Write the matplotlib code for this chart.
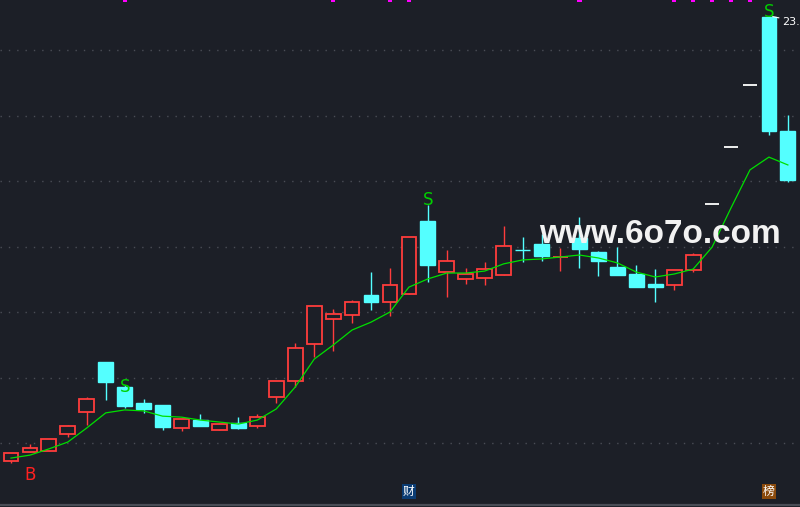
import matplotlib
matplotlib.use("Agg")
import matplotlib.pyplot as plt
from matplotlib.patches import Rectangle

# ---- data ----
opens  = [9.45, 9.73, 9.76, 10.27, 10.95, 12.47, 11.71, 11.22, 11.16, 10.46,
          10.70, 10.40, 10.61, 10.52, 11.40, 11.89, 13.02, 13.79, 13.91, 14.52,
          14.31, 14.55, 16.78, 15.22, 15.01, 15.04, 15.13, 15.90, 16.08, 15.67,
          16.26, 15.83, 15.37, 15.16, 14.85, 14.82, 15.28, 17.30, 19.03, 20.93,
          23.02, 19.53]
closes = [9.69, 9.85, 10.12, 10.52, 11.34, 11.86, 11.13, 11.04, 10.49, 10.73,
          10.52, 10.58, 10.46, 10.79, 11.89, 12.90, 14.18, 13.94, 14.31, 14.31,
          14.82, 16.29, 15.44, 15.56, 15.16, 15.31, 16.02, 15.88, 15.71, 15.69,
          15.92, 15.56, 15.13, 14.76, 14.76, 15.28, 15.74, 17.30, 19.03, 20.93,
          19.53, 18.03]
highs  = [9.69, 9.97, 10.12, 10.55, 11.40, 12.47, 11.77, 11.34, 11.16, 10.73,
          10.89, 10.61, 10.79, 10.89, 11.89, 13.05, 14.18, 14.09, 14.37, 15.22,
          15.34, 16.29, 17.27, 15.89, 15.34, 15.53, 16.63, 16.29, 16.38, 15.95,
          16.90, 15.86, 15.98, 15.44, 15.31, 15.28, 15.80, 17.30, 19.03, 20.93,
          23.02, 20.02]
lows   = [9.39, 9.73, 9.76, 10.18, 10.55, 11.31, 11.07, 10.92, 10.40, 10.37,
          10.52, 10.40, 10.43, 10.46, 11.22, 11.71, 12.63, 12.81, 13.66, 14.06,
          13.88, 14.55, 14.92, 14.46, 14.85, 14.82, 15.13, 15.53, 15.56, 15.25,
          15.34, 15.10, 15.13, 14.76, 14.31, 14.67, 15.22, 17.30, 19.03, 20.93,
          19.40, 17.97]
ma     = [9.54, 9.63, 9.82, 10.03, 10.46, 10.92, 11.01, 10.98, 10.82, 10.79,
          10.70, 10.64, 10.58, 10.70, 11.04, 11.71, 12.56, 12.99, 13.45, 13.69,
          14.00, 14.76, 15.01, 15.19, 15.19, 15.25, 15.47, 15.59, 15.62, 15.68,
          15.74, 15.65, 15.50, 15.22, 15.07, 15.16, 15.31, 15.98, 17.18, 18.34,
          18.73, 18.49]
grid_levels = [10, 12, 14, 16, 18, 20, 22]
sell_idx = [6, 22, 40]
sell_price = [11.56, 17.27, 23.02]
buy_idx = [1]
buy_price = [9.30]
top_marks = [6, 17, 20, 21, 30, 35, 36, 37, 38, 39]
bottom_tags = [(21, "财", "#0b3c73"), (40, "榜", "#8a4a0c")]
watermark = "www.6o7o.com"

# ---- style ----
BG = "#1c1f27"
UP = "#ff3c3c"
DOWN = "#54ffff"
MA_C = "#00e000"
GRID = "#4a4d56"

plt.rcParams['font.family'] = ['Noto Sans CJK SC', 'DejaVu Sans']

fig = plt.figure(figsize=(8, 5.07), dpi=100, facecolor=BG)
ax = fig.add_axes([0, 0, 1, 1])
ax.set_facecolor(BG)
ax.set_xlim(-0.58, 41.64)
ax.set_ylim(8.046, 23.527)
ax.axis("off")

for g in grid_levels:
    ax.axhline(g, color=GRID, lw=1.0, ls=(0, (1, 5)), zorder=1)

w = 0.78
for i, (o, c, h, l) in enumerate(zip(opens, closes, highs, lows)):
    if h == l:
        ax.plot([i - w / 2, i + w / 2], [h, h], color="white", lw=1.3, zorder=3,
                solid_capstyle="butt")
        continue
    up = c >= o
    col = UP if up else DOWN
    ax.plot([i, i], [l, h], color=col, lw=1.0, zorder=2, solid_capstyle="butt")
    bottom = min(o, c)
    height = max(abs(c - o), 0.0001)
    if up:
        ax.add_patch(Rectangle((i - w / 2, bottom), w, height, facecolor=BG,
                               edgecolor=col, lw=1.3, zorder=3))
    else:
        ax.add_patch(Rectangle((i - w / 2, bottom), w, height, facecolor=col,
                               edgecolor=col, lw=1.0, zorder=3))

ax.plot(range(len(ma)), ma, color=MA_C, lw=0.9, zorder=4)

for i, p in zip(sell_idx, sell_price):
    ax.text(i, p, "S", color="#00d000", fontsize=12, ha="center", va="baseline",
            family="DejaVu Sans", zorder=5)
for i, p in zip(buy_idx, buy_price):
    ax.text(i, p, "B", color="#ff2020", fontsize=12, ha="center", va="top",
            family="DejaVu Sans", zorder=5)

# top magenta markers
ymax = ax.get_ylim()[1]
for i in top_marks:
    ax.add_patch(Rectangle((i - 0.11, ymax - 0.07), 0.22, 0.07,
                           facecolor="#ff00ff", edgecolor="none", zorder=5))

# high value label (clipped at the right edge, as in the reference)
ax.annotate(f"{highs[40]:.2f}", xy=(40.2, highs[40]), xytext=(9, -5),
            textcoords="offset pixels", color="white", fontsize=8,
            family="DejaVu Sans", ha="left", va="center",
            arrowprops=dict(arrowstyle="-", color="white", lw=0.8,
                            shrinkA=0, shrinkB=0), zorder=6)

# bottom line and tags
ax.axhline(8.12, color="#4a4d56", lw=1.6, zorder=2)
for i, t, bgc in bottom_tags:
    ax.text(i, 8.52, t, color="white", fontsize=8.5, ha="center", va="center",
            zorder=6, bbox=dict(boxstyle="square,pad=0.08", facecolor=bgc,
                                edgecolor="none"))

# watermark
ax.text(0.9756, 0.5207, watermark, transform=fig.transFigure, color="#f2f2f2",
        fontsize=24, fontweight="bold", family="Liberation Sans",
        ha="right", va="baseline", zorder=7)

fig.savefig("out.png", dpi=100, facecolor=BG)
